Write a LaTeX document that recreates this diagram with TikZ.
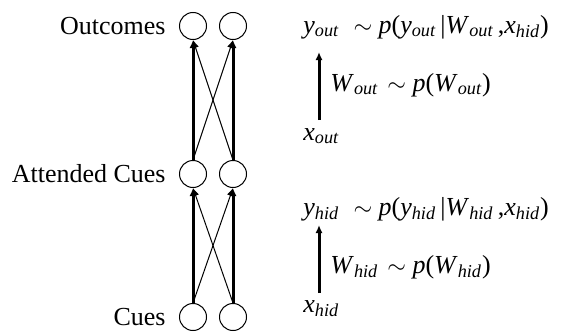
\documentclass[tikz,border=0pt]{standalone}
\usepackage{amsmath}
\usepackage{fontspec}
\setmainfont{Liberation Serif}
\usepackage{tikz}
\usetikzlibrary{positioning, arrows.meta}

\newcommand{\vsub}[2]{\textit{#1}$_{\textit{#2}}$}

\begin{document}
\begin{tikzpicture}[
      x=0.5pt, y=-0.5pt,
      font=\fontsize{13}{15}\selectfont,
      unit/.style={circle, draw, line width=0.5pt, minimum size=13.5pt, inner sep=0pt},
      layer/.style={anchor=east, inner sep=0pt},
      eqn/.style={anchor=base west, inner sep=0pt},
      strong/.style={-{Latex[length=4pt,width=3.5pt]}, line width=1.5pt},
      weak/.style={-{Latex[length=4pt,width=3.5pt]}, line width=0.5pt}
  ]
  \useasboundingbox (0,0) rectangle (562,332);
  % Nodes ------------------------------------------------
  \node[unit] (out1) at (193,26)  {};
  \node[unit] (out2) at (233,26)  {};
  \node[unit] (att1) at (193,174) {};
  \node[unit] (att2) at (233,174) {};
  \node[unit] (cue1) at (193,317) {};
  \node[unit] (cue2) at (233,317) {};
  \node[layer] (lout) at (166,26)  {Outcomes};
  \node[layer] (latt) at (166,174) {Attended Cues};
  \node[layer] (lcue) at (166,317) {Cues};

  \node[eqn] (yout) at (303,33)  {\vsub{y}{out}\hspace{0.55em}$\sim$ \textit{p}(\vsub{y}{out}\,|\vsub{W}{out}\,,\vsub{x}{hid})};
  \node[eqn] (wout) at (330,91)  {\vsub{W}{out}\hspace{0.35em}$\sim$ \textit{p}(\vsub{W}{out})};
  \node[eqn] (xout) at (303,140) {\vsub{x}{out}};
  \node[eqn] (yhid) at (303,215) {\vsub{y}{hid}\hspace{0.55em}$\sim$ \textit{p}(\vsub{y}{hid}\,|\vsub{W}{hid}\,,\vsub{x}{hid})};
  \node[eqn] (whid) at (330,273) {\vsub{W}{hid}\hspace{0.35em}$\sim$ \textit{p}(\vsub{W}{hid})};
  \node[eqn] (xhid) at (303,312) {\vsub{x}{hid}};
  \coordinate (otop) at (319,52);
  \coordinate (obot) at (319,120);
  \coordinate (htop) at (319,225);
  \coordinate (hbot) at (319,293);

  % Arrows ------------------------------------------------
  \draw[strong] (cue1.north) -- (att1.south);
  \draw[strong] (cue2.north) -- (att2.south);
  \draw[weak] (cue1.north) -- (att2.south);
  \draw[weak] (cue2.north) -- (att1.south);
  \draw[strong] (att1.north) -- (out1.south);
  \draw[strong] (att2.north) -- (out2.south);
  \draw[weak] (att1.north) -- (out2.south);
  \draw[weak] (att2.north) -- (out1.south);
  \draw[strong] (obot) -- (otop);
  \draw[strong] (hbot) -- (htop);
\end{tikzpicture}
\end{document}
